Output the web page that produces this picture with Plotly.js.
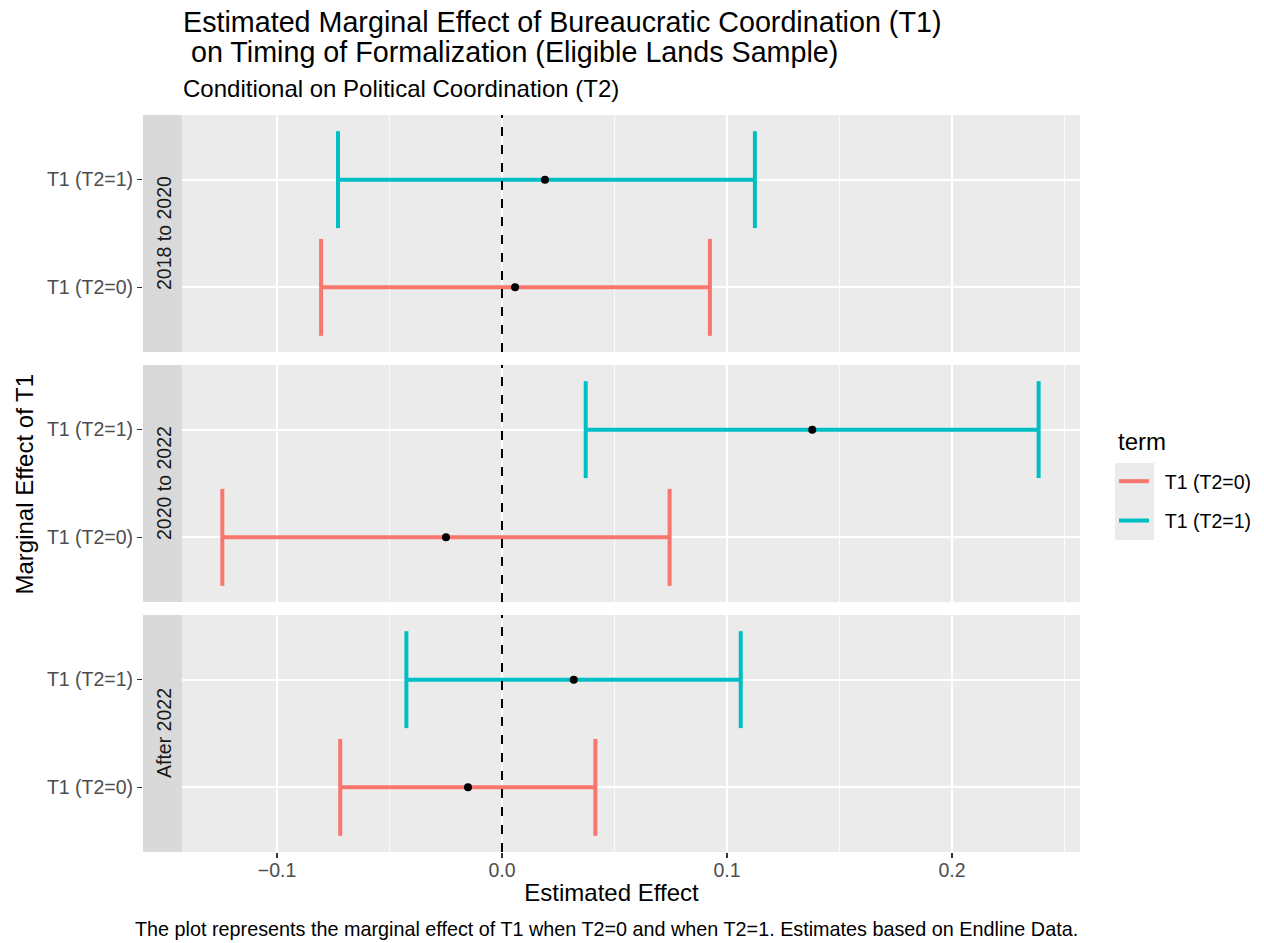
<!DOCTYPE html>
<html>
<head>
<meta charset="utf-8">
<script src="https://cdn.plot.ly/plotly-3.0.1.min.js"></script>
<style>html,body{margin:0;padding:0;background:#fff;}#chart{width:1264px;height:943px;}</style>
</head>
<body>
<div id="chart"></div>
<script>
// ---- data ----
const periods = ["2018 to 2020", "2020 to 2022", "After 2022"];
const terms = ["T1 (T2=0)", "T1 (T2=1)"];
const est_T2_0 = [0.0058, -0.0249, -0.0151];
const lo_T2_0  = [-0.0804, -0.1243, -0.0719];
const hi_T2_0  = [0.0924, 0.0745, 0.0415];
const est_T2_1 = [0.0191, 0.1379, 0.0319];
const lo_T2_1  = [-0.0729, 0.0372, -0.0425];
const hi_T2_1  = [0.1124, 0.2385, 0.1061];
const xTickVals = [-0.1, 0.0, 0.1, 0.2];
const xTickText = ["\u22120.1", "0.0", "0.1", "0.2"];
const titleLines = ["Estimated Marginal Effect of Bureaucratic Coordination (T1)",
                    " on Timing of Formalization (Eligible Lands Sample)"];

// ---- style ----
const colors = ["#F8766D", "#00BFC4"];
const FONT = "Liberation Sans, Arial, Helvetica, sans-serif";
const SMALL = 19.5, MID = 24, BIG = 28.7;
const capHalf = 0.45;
const W = 1264, H = 943;
const mL = 143, mR = 184, mT = 115, mB = 91;
const plotW = W - mL - mR, plotH = H - mT - mB;
const stripW = 39;
const pxPerUnit = 2250;
const zeroPx = 502;
const xRange = [-(zeroPx - mL) / pxPerUnit, (W - mR - zeroPx) / pxPerUnit];
const panelsPx = [[115, 352], [365, 602], [615, 852]];
const toPaperY = py => (H - mB - py) / plotH;
const ax = px => (px - mL) / plotW;
const domains = panelsPx.map(p => [toPaperY(p[1]), toPaperY(p[0])]);
const legendPad = "\u00a0\u00a0";

const est = [est_T2_0, est_T2_1], lo = [lo_T2_0, lo_T2_1], hi = [hi_T2_0, hi_T2_1];

const traces = [];
const layout = {
  width: W, height: H,
  margin: {l: mL, r: mR, t: mT, b: mB, pad: 0, autoexpand: false},
  paper_bgcolor: "#FFFFFF",
  plot_bgcolor: "#EBEBEB",
  font: {family: FONT, color: "#000000"},
  showlegend: true,
  legend: {
    x: ax(1114), xanchor: "left",
    y: toPaperY(462), yanchor: "top",
    bgcolor: "rgba(0,0,0,0)",
    font: {size: SMALL, family: FONT, color: "#000"},
    traceorder: "grouped",
    tracegroupgap: 11,
    itemwidth: 30
  },
  shapes: [],
  annotations: []
};

periods.forEach((per, p) => {
  const yName = p === 0 ? "y" : "y" + (p + 1);
  const xName = p === 0 ? "x" : "x" + (p + 1);
  const yKey = p === 0 ? "yaxis" : "yaxis" + (p + 1);
  const xKey = p === 0 ? "xaxis" : "xaxis" + (p + 1);
  layout[xKey] = {
    domain: [0, 1], range: xRange, anchor: yName,
    tickvals: xTickVals, ticktext: xTickText,
    showticklabels: p === 2,
    ticks: p === 2 ? "outside" : "", ticklen: 5, tickwidth: 1.1, tickcolor: "#333333",
    ticklabelstandoff: -4,
    tickfont: {size: SMALL, color: "#4D4D4D", family: FONT},
    showgrid: true, gridcolor: "#FFFFFF", gridwidth: 1.8,
    minor: {dtick: 0.1, tick0: 0.05, showgrid: true, gridcolor: "#FFFFFF", gridwidth: 0.8, ticks: ""},
    zeroline: false, showline: false, fixedrange: true
  };
  if (p > 0) layout[xKey].matches = "x";
  if (p === 2) layout[xKey].title = {text: "Estimated Effect", font: {size: MID, family: FONT, color: "#000"}, standoff: 3};
  layout[yKey] = {
    domain: domains[p], range: [-0.6, 1.6], anchor: xName,
    tickvals: [0, 1], ticktext: terms,
    ticks: "outside", ticklen: 5, tickwidth: 1.1, tickcolor: "#333333",
    tickfont: {size: SMALL, color: "#4D4D4D", family: FONT},
    showgrid: true, gridcolor: "#FFFFFF", gridwidth: 1.8,
    zeroline: false, showline: false, fixedrange: true
  };

  terms.forEach((t, k) => {
    const a = lo[k][p], b = hi[k][p];
    traces.push({
      type: "scatter", mode: "lines", name: legendPad + t, legendgroup: t,
      showlegend: p === 0,
      x: [a, b, null, a, a, null, b, b],
      y: [k, k, null, k - capHalf, k + capHalf, null, k - capHalf, k + capHalf],
      xaxis: xName, yaxis: yName,
      line: {color: colors[k], width: 4},
      hoverinfo: "skip"
    });
  });
  traces.push({
    type: "scatter", mode: "markers", showlegend: false,
    x: [est[0][p], est[1][p]], y: [0, 1],
    xaxis: xName, yaxis: yName,
    marker: {color: "#000000", size: 8},
    hoverinfo: "x"
  });

  layout.shapes.push({
    type: "line", xref: xName, yref: yName + " domain",
    x0: 0, x1: 0, y0: 0, y1: 1,
    line: {color: "#000000", width: 2, dash: "dash"}, layer: "above"
  });
  layout.shapes.push({
    type: "rect", xref: "paper", yref: yName + " domain",
    x0: 0, x1: stripW / plotW, y0: 0, y1: 1,
    fillcolor: "#D9D9D9", line: {width: 0}, layer: "above"
  });
  layout.annotations.push({
    xref: "paper", yref: yName + " domain",
    x: (stripW / 2 + 1) / plotW, y: 0.5, text: per, textangle: -90,
    showarrow: false, xanchor: "center", yanchor: "middle",
    font: {size: SMALL, color: "#1A1A1A", family: FONT}
  });
});

// legend key background
layout.shapes.push({
  type: "rect", xref: "paper", yref: "paper",
  x0: ax(1115), x1: ax(1154),
  y0: toPaperY(540), y1: toPaperY(463),
  fillcolor: "#EBEBEB", line: {width: 0}, layer: "below"
});

layout.annotations.push(
  {xref: "paper", yref: "paper", x: ax(1116), y: toPaperY(441), xanchor: "left", yanchor: "middle",
   text: "term", showarrow: false, font: {size: MID, family: FONT, color: "#000"}},
  {xref: "paper", yref: "paper", x: ax(181), y: toPaperY(22), xanchor: "left", yanchor: "middle", align: "left",
   text: titleLines[0], showarrow: false, font: {size: BIG, family: FONT, color: "#000"}},
  {xref: "paper", yref: "paper", x: ax(181), y: toPaperY(52), xanchor: "left", yanchor: "middle", align: "left",
   text: titleLines[1].replace(/^ /, "\u00a0"), showarrow: false, font: {size: BIG, family: FONT, color: "#000"}},
  {xref: "paper", yref: "paper", x: ax(181), y: toPaperY(89), xanchor: "left", yanchor: "middle",
   text: "Conditional on Political Coordination (T2)",
   showarrow: false, font: {size: MID, family: FONT, color: "#000"}},
  {xref: "paper", yref: "paper", x: ax(24), y: 0.5, xanchor: "center", yanchor: "middle", textangle: -90,
   text: "Marginal Effect of T1",
   showarrow: false, font: {size: MID, family: FONT, color: "#000"}},
  {xref: "paper", yref: "paper", x: ax(1080), y: toPaperY(929), xanchor: "right", yanchor: "middle",
   text: "The plot represents the marginal effect of T1 when T2=0 and when T2=1. Estimates based on Endline Data.",
   showarrow: false, font: {size: 19.8, family: FONT, color: "#000"}}
);

Plotly.newPlot("chart", traces, layout, {displayModeBar: false, staticPlot: true});
</script>
</body>
</html>
